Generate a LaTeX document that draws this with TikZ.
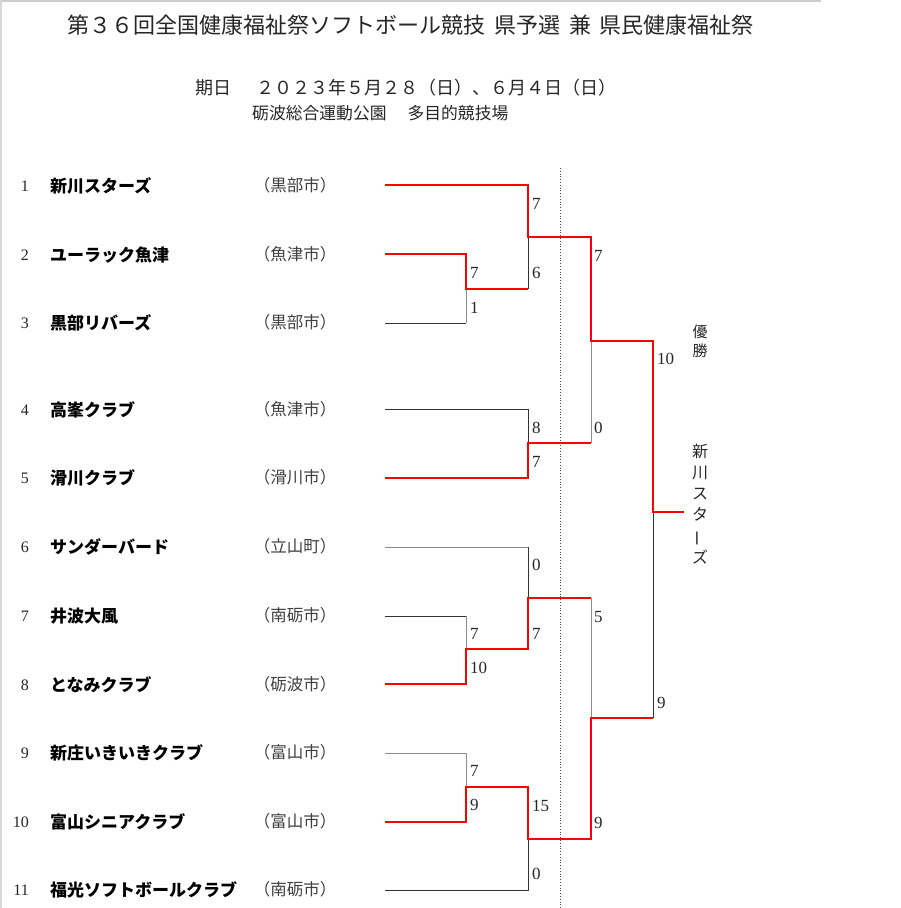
\documentclass[tikz,border=0pt]{standalone}
\usepackage{fontspec}
\usepackage{graphicx}
\setmainfont{Liberation Serif}
\newfontfamily\jp{Noto Sans CJK JP}
\begin{document}
\begin{tikzpicture}[x=1pt,y=-1pt,
  redline/.style={draw=red,line width=2.9pt,line join=miter},
  blkline/.style={draw=black!80,line width=1pt},
  gryline/.style={draw=black!45,line width=1pt},
  seed/.style={anchor=east,inner sep=0pt,font=\fontsize{16}{16}\selectfont,text=black!85},
  team/.style={anchor=west,inner sep=0pt,font=\jp\bfseries\fontsize{17}{17}\selectfont},
  city/.style={inner sep=0pt,font=\jp\fontsize{16.5}{16.5}\selectfont,text=black!75},
  score/.style={anchor=west,inner sep=0pt,font=\fontsize{17}{17}\selectfont,text=black!85},
  headtext/.style={anchor=west,inner sep=0pt,text=black!85}]
\useasboundingbox (0,0) rectangle (900,908);
\fill[white] (0,0) rectangle (900,908);
\draw[black!20,line width=1.5pt] (0,1) -- (821,1);
\draw[black!15,line width=1.5pt] (1,0) -- (1,908);

% headings
\node[headtext,font=\jp\fontsize{22}{22}\selectfont] (title) at (67,25)
  {第３６回全国健康福祉祭ソフトボール競技\hspace{4pt} 県予選\hspace{4pt} 兼\hspace{4pt} 県民健康福祉祭};
\node[headtext,font=\jp\fontsize{18}{18}\selectfont] (date) at (195,88)
  {期日\hspace{25pt}２０２３年５月２８（日）、６月４日（日）};
\node[headtext,font=\jp\fontsize{16.8}{16.8}\selectfont] (venue) at (252,113)
  {砺波総合運動公園\hspace{1.25em}多目的競技場};

% teams
\foreach \i/\y/\nm/\ct in {1/186/新川スターズ/黒部市, 2/255/ユーラック魚津/魚津市, 3/323/黒部リバーズ/黒部市,
  4/410/高峯クラブ/魚津市, 5/478/滑川クラブ/滑川市, 6/547/サンダーバード/立山町, 7/616/井波大風/南砺市,
  8/685/となみクラブ/砺波市, 9/753/新庄いきいきクラブ/富山市, 10/822/富山シニアクラブ/富山市,
  11/890/福光ソフトボールクラブ/南砺市}{
  \node[seed] (n\i) at (29,\y) {\i};
  \node[team] (t\i) at (50,\y) {\nm};
  \node[city] (c\i) at (295,\y-1) {（\ct）};
}

% line starts
\foreach \i/\y in {1/185,2/254,3/323,4/409,5/478,6/547,7/616,8/684,9/753,10/822,11/890}{
  \coordinate (s\i) at (385,\y);
}
% junctions
\coordinate (m23) at (466,289);
\coordinate (m1) at (528,237);
\coordinate (m45) at (528,443);
\coordinate (mA) at (591,341);
\coordinate (m78) at (466,649);
\coordinate (m6) at (528,598);
\coordinate (m910) at (466,787);
\coordinate (m11) at (528,839);
\coordinate (mB) at (591,718);
\coordinate (fin) at (653,512);
\coordinate (champ) at (684,512);

% dotted divider
\coordinate (dtop) at (560,168);
\coordinate (dbot) at (560,908);
\draw[black!70,line width=0.8pt,dotted] (dtop) -- (dbot);

% losing paths
\draw[blkline] (m1) -- (m23 -| m1);
\draw[blkline] (s3) -- (s3 -| m23);
\draw[gryline] (s3 -| m23) -- (m23);
\draw[blkline] (s4) -| (m45);
\draw[gryline] (mA) -- (mA |- m45);
\draw[gryline] (s6) -- (s6 -| m6);
\draw[blkline] (s6 -| m6) -- (m6);
\draw[blkline] (s7) -- (s7 -| m78);
\draw[gryline] (s7 -| m78) -- (m78);
\draw[gryline] (m6 -| mB) -- (mB);
\draw[gryline] (s9) -| (m910);
\draw[blkline] (s11) -| (m11);
\draw[blkline] (fin) -- (mB -| fin);

% winning paths
\draw[redline] (s1) -| (m1) -| (mA) -| (fin) -- (champ);
\draw[redline] (s2) -| (m23) -- (m23 -| m1);
\draw[redline] (s5) -| (m45) -- (m45 -| mA);
\draw[redline] (s8) -| (m78) -| (m6) -- (m6 -| mB);
\draw[redline] (s10) -| (m910) -| (m11) -| (mB) -- (mB -| fin);

% scores
\node[score] (p1) at (532,204) {7};
\node[score] (p2) at (532,273) {6};
\node[score] (p3) at (470,273) {7};
\node[score] (p4) at (470,308) {1};
\node[score] (p5) at (532,428) {8};
\node[score] (p6) at (532,462) {7};
\node[score] (p7) at (594,256) {7};
\node[score] (p8) at (594,428) {0};
\node[score] (p9) at (657,359) {10};
\node[score] (p10) at (657,703) {9};
\node[score] (p11) at (532,565) {0};
\node[score] (p12) at (532,634) {7};
\node[score] (p13) at (470,634) {7};
\node[score] (p14) at (470,668) {10};
\node[score] (p15) at (594,617) {5};
\node[score] (p16) at (594,823) {9};
\node[score] (p17) at (470,771) {7};
\node[score] (p18) at (470,805) {9};
\node[score] (p19) at (532,806) {15};
\node[score] (p20) at (532,874) {0};

% winner
\node[inner sep=0pt,align=center,font=\jp\fontsize{15}{19}\selectfont,text=black!85] (yusho) at (700,341) {優\\勝};
\node[inner sep=0pt,align=center,font=\jp\fontsize{16}{21.2}\selectfont,text=black!85] (winner) at (700,504)
  {新\\川\\ス\\タ\\\rotatebox[origin=c]{90}{ー}\\ズ};
\end{tikzpicture}
\end{document}
